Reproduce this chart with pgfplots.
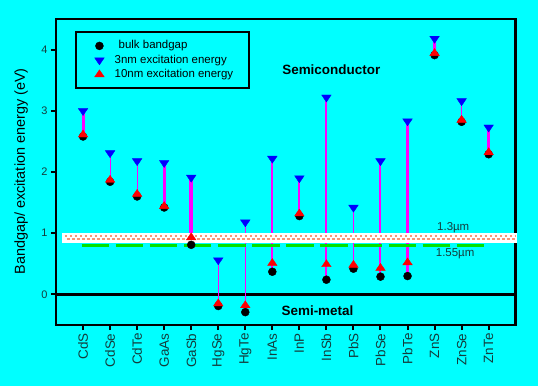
\documentclass[border=0pt]{standalone}
\usepackage{pgfplots}
\usepackage{pgfplotstable}
\pgfplotsset{compat=1.18}
\usepackage{fontspec}
\setmainfont{Liberation Sans}
\definecolor{bgc}{RGB}{0,255,255}
\definecolor{mag}{RGB}{255,0,255}
\definecolor{blu}{RGB}{0,0,255}
\definecolor{rd}{RGB}{255,0,0}
\definecolor{grn}{RGB}{0,225,0}
\definecolor{salm}{RGB}{250,150,120}
\definecolor{tlab}{RGB}{20,60,60}

\pgfplotstableread{
x bulk e3 e10
1 2.58 3.00 2.61
2 1.84 2.31 1.87
3 1.60 2.18 1.64
4 1.42 2.15 1.44
5 0.81 1.91 0.93
6 -0.19 0.56 -0.15
7 -0.29 1.18 -0.18
8 0.37 2.22 0.51
9 1.28 1.90 1.32
10 0.24 3.22 0.49
11 0.42 1.42 0.48
12 0.29 2.18 0.43
13 0.30 2.83 0.52
14 3.91 4.18 3.94
15 2.82 3.16 2.85
16 2.29 2.73 2.32
}\data

\begin{document}
\begin{tikzpicture}
\fill[bgc] (0,0) rectangle (538bp,386bp);
\begin{axis}[
  at={(56bp,61bp)}, anchor=south west, scale only axis,
  width=459.7bp, height=306bp,
  xmin=0, xmax=17, ymin=-0.5, ymax=4.5,
  clip=false,
  axis line style={line width=2.5bp, black},
  xtick={1,...,16},
  xticklabels={CdS,CdSe,CdTe,GaAs,GaSb,HgSe,HgTe,InAs,InP,InSb,PbS,PbSe,PbTe,ZnS,ZnSe,ZnTe},
  ytick={0,1,2,3,4},
  minor tick num=0,
  tick align=outside, xtick pos=left, ytick pos=left,
  major tick length=5bp,
  every tick/.style={black, line width=2bp},
  xticklabel style={rotate=90, anchor=east, font=\fontsize{13.5}{14}\selectfont, text=tlab},
  yticklabel style={font=\fontsize{11}{12}\selectfont, text=tlab},
  /pgf/number format/assume math mode=true,
  ylabel={Bandgap/ excitation energy (eV)},
  every axis y label/.style={at={(axis description cs:-0.0761,0.502)}, rotate=90, anchor=center, font=\fontsize{14.5}{16}\selectfont},
  legend style={at={(axis description cs:0.0837,0.9356)}, anchor=north west, draw=none, fill=none, inner sep=0pt,
    font=\fontsize{11.5}{13}\selectfont, row sep=0.3bp,
    nodes={inner sep=1.5bp, text height=8.5bp, text depth=2.5bp},
    /tikz/every odd column/.append style={column sep=9bp}},
  legend cell align=left,
]
% zero line
\addplot[black, line width=2.5bp, forget plot] coordinates {(0,0) (17,0)};
% markers
\addplot[only marks, mark=*, mark size=4bp, black, line width=0.4pt] table[x=x,y=bulk]{\data};
\addlegendentry{\hspace*{4bp}bulk bandgap}
\addplot[only marks, mark=triangle*, mark size=5.5bp, blu, line width=0.4pt, mark options={rotate=180, yscale=0.85}] table[x=x,y=e3]{\data};
\addlegendentry{3nm excitation energy}
\addplot[only marks, mark=triangle*, mark size=5.5bp, rd, line width=0.4pt, mark options={yscale=0.85}] table[x=x,y=e10]{\data};
\addlegendentry{10nm excitation energy}
% vertical connectors bulk -> 3nm
\addplot[mag, line width=3bp, forget plot] coordinates {(1,2.58) (1,3.00)};
\addplot[mag, line width=1bp, forget plot] coordinates {(2,1.84) (2,2.31)};
\addplot[mag, line width=1bp, forget plot] coordinates {(3,1.60) (3,2.18)};
\addplot[mag, line width=3bp, forget plot] coordinates {(4,1.42) (4,2.15)};
\addplot[mag, line width=3.5bp, forget plot] coordinates {(5,0.81) (5,1.91)};
\addplot[mag, line width=1bp, forget plot] coordinates {(6,-0.19) (6,0.56)};
\addplot[mag, line width=1bp, forget plot] coordinates {(7,-0.29) (7,1.18)};
\addplot[mag, line width=2bp, forget plot] coordinates {(8,0.37) (8,2.22)};
\addplot[mag, line width=2bp, forget plot] coordinates {(9,1.28) (9,1.90)};
\addplot[mag, line width=2bp, forget plot] coordinates {(10,0.24) (10,3.22)};
\addplot[mag, line width=1bp, forget plot] coordinates {(11,0.42) (11,1.42)};
\addplot[mag, line width=2bp, forget plot] coordinates {(12,0.29) (12,2.18)};
\addplot[mag, line width=3bp, forget plot] coordinates {(13,0.30) (13,2.83)};
\addplot[mag, line width=3bp, forget plot] coordinates {(14,3.91) (14,4.18)};
\addplot[mag, line width=1bp, forget plot] coordinates {(15,2.82) (15,3.16)};
\addplot[mag, line width=3bp, forget plot] coordinates {(16,2.29) (16,2.73)};
% 1.3 um band
\addplot[fill=white, draw=none, forget plot] coordinates {(0.22,0.845) (17.05,0.845) (17.05,1.008) (0.22,1.008)} -- cycle;
\addplot[salm, line width=2.5bp, dash pattern=on 2.5bp off 2.5bp, forget plot] coordinates {(0.33,0.951) (16.98,0.951)};
\addplot[salm, line width=2.5bp, dash pattern=on 2.5bp off 2.5bp, dash phase=2.5bp, forget plot] coordinates {(0.33,0.907) (16.98,0.907)};
% 1.55 um line
\addplot[grn, line width=3bp, dash pattern=on 27.5bp off 6.6bp, forget plot] coordinates {(0.95,0.804) (15.86,0.804)};
% legend box
\draw[line width=2bp, black] (axis description cs:0.0435,0.9565) rectangle (axis description cs:0.4205,0.7755);
% annotations
\node[font=\bfseries\fontsize{13.5}{15}\selectfont] at (axis cs:10.18,3.67) {Semiconductor};
\node[font=\bfseries\fontsize{13.5}{15}\selectfont] at (axis cs:9.67,-0.27) {Semi-metal};
\node[font=\fontsize{11.5}{13}\selectfont, text=tlab] at (axis cs:14.69,1.086) {1.3µm};
\node[font=\fontsize{11.5}{13}\selectfont, text=tlab] at (axis cs:14.76,0.67) {1.55µm};
\end{axis}
\pgfresetboundingbox
\path[use as bounding box] (0,0) rectangle (538bp,386bp);
\end{tikzpicture}
\end{document}
